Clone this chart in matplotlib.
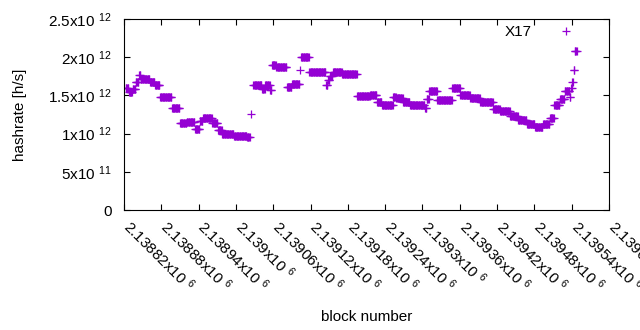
import numpy as np
import matplotlib
matplotlib.use("Agg")
import matplotlib.pyplot as plt
import matplotlib.transforms as mtransforms

# hashrate steps: first block, last block, value (x10^12 h/s)
seg_start = [2138823, 2138828, 2138834, 2138839, 2138844, 2138847, 2138862, 2138870,
             2138878, 2138897, 2138910, 2138921, 2138934, 2138942, 2138947, 2138962,
             2138971, 2138978, 2138997, 2139018, 2139024, 2139028, 2139042, 2139047,
             2139055, 2139058, 2139065, 2139082, 2139090, 2139103, 2139105, 2139118,
             2139145, 2139148, 2139151, 2139156, 2139171, 2139195, 2139216, 2139227,
             2139235, 2139253, 2139258, 2139269, 2139280, 2139304, 2139307, 2139311,
             2139324, 2139348, 2139361, 2139377, 2139393, 2139414, 2139425, 2139441,
             2139454, 2139468, 2139481, 2139494, 2139505, 2139512, 2139521, 2139529,
             2139537, 2139539, 2139541, 2139543, 2139545]
seg_end = [2138827, 2138833, 2138838, 2138843, 2138846, 2138861, 2138869, 2138877,
           2138896, 2138909, 2138920, 2138933, 2138941, 2138946, 2138961, 2138970,
           2138977, 2138996, 2139017, 2139022, 2139024, 2139041, 2139046, 2139054,
           2139057, 2139064, 2139081, 2139089, 2139102, 2139103, 2139117, 2139144,
           2139147, 2139150, 2139155, 2139170, 2139194, 2139215, 2139226, 2139234,
           2139252, 2139257, 2139268, 2139279, 2139303, 2139306, 2139310, 2139323,
           2139347, 2139360, 2139376, 2139392, 2139413, 2139424, 2139440, 2139453,
           2139467, 2139480, 2139493, 2139504, 2139511, 2139520, 2139528, 2139536,
           2139538, 2139540, 2139542, 2139544, 2139548]
seg_value = [1.60, 1.55, 1.58, 1.68, 1.77, 1.71, 1.67, 1.63,
             1.48, 1.34, 1.14, 1.15, 1.06, 1.17, 1.21, 1.14,
             1.05, 1.00, 0.97, 0.96, 1.26, 1.63, 1.58, 1.64,
             1.57, 1.90, 1.87, 1.61, 1.65, 1.83, 2.00, 1.80,
             1.64, 1.70, 1.76, 1.81, 1.78, 1.49, 1.50, 1.42,
             1.38, 1.48, 1.47, 1.41, 1.37, 1.33, 1.45, 1.56,
             1.44, 1.60, 1.50, 1.46, 1.41, 1.32, 1.29, 1.23,
             1.18, 1.13, 1.08, 1.12, 1.20, 1.37, 1.45, 1.56,
             1.48, 1.60, 1.68, 1.83, 2.08]

xtick_vals = [2138820, 2138880, 2138940, 2139000, 2139060, 2139120, 2139180,
              2139240, 2139300, 2139360, 2139420, 2139480, 2139540, 2139600]
xtick_text = ["2.13882", "2.13888", "2.13894", "2.139", "2.13906", "2.13912", "2.13918",
              "2.13924", "2.1393", "2.13936", "2.13942", "2.13948", "2.13954", "2.1396"]
ytick_vals = [0, 0.5e12, 1e12, 1.5e12, 2e12, 2.5e12]
ytick_text = ["0", r"5x10 $^{11}$", r"1x10 $^{12}$", r"1.5x10 $^{12}$", r"2x10 $^{12}$", r"2.5x10 $^{12}$"]

blocks = np.concatenate([np.arange(a, b + 1) for a, b in zip(seg_start, seg_end)])
hashrate = np.concatenate([np.full(b - a + 1, v * 1e12) for a, b, v in zip(seg_start, seg_end, seg_value)])

plt.rcParams["font.family"] = ["Liberation Sans", "DejaVu Sans"]
plt.rcParams["mathtext.fontset"] = "custom"
plt.rcParams["mathtext.rm"] = "Liberation Sans"
plt.rcParams["mathtext.it"] = "Liberation Sans"
plt.rcParams["font.size"] = 11

fig = plt.figure(figsize=(6.4, 3.3), dpi=100)
ax = fig.add_axes([124 / 640, 1 - 210 / 330, 485 / 640, 191 / 330])

ax.plot(blocks, hashrate, linestyle="none", marker="+", markersize=5.5,
        markeredgewidth=0.9, color="#9400d3", label="X17")

ax.set_xlim(2138820, 2139600)
ax.set_ylim(0, 2.5e12)

ax.set_yticks(ytick_vals, ytick_text)
ax.set_xticks(xtick_vals, [t + r"x10 $^{6}$" for t in xtick_text])
ax.tick_params(direction="in", length=4, width=0.8, top=True, right=True)
ax.tick_params(axis="y", pad=9)
ax.tick_params(axis="x", pad=9)
shift = mtransforms.ScaledTranslation(0.09, 0.06, fig.dpi_scale_trans)
for lab in ax.get_xticklabels():
    lab.set_rotation(-45)
    lab.set_ha("left")
    lab.set_va("top")
    lab.set_rotation_mode("anchor")
    lab.set_transform(lab.get_transform() + shift)

ax.set_ylabel("hashrate [h/s]", labelpad=15)
ax.set_xlabel("block number", labelpad=11)

ax.legend(loc="upper right", bbox_to_anchor=(0.942, 0.969), frameon=False,
          markerfirst=False, borderpad=0, borderaxespad=0,
          handlelength=2, handletextpad=1.2)

fig.savefig("out.png", dpi=100)
